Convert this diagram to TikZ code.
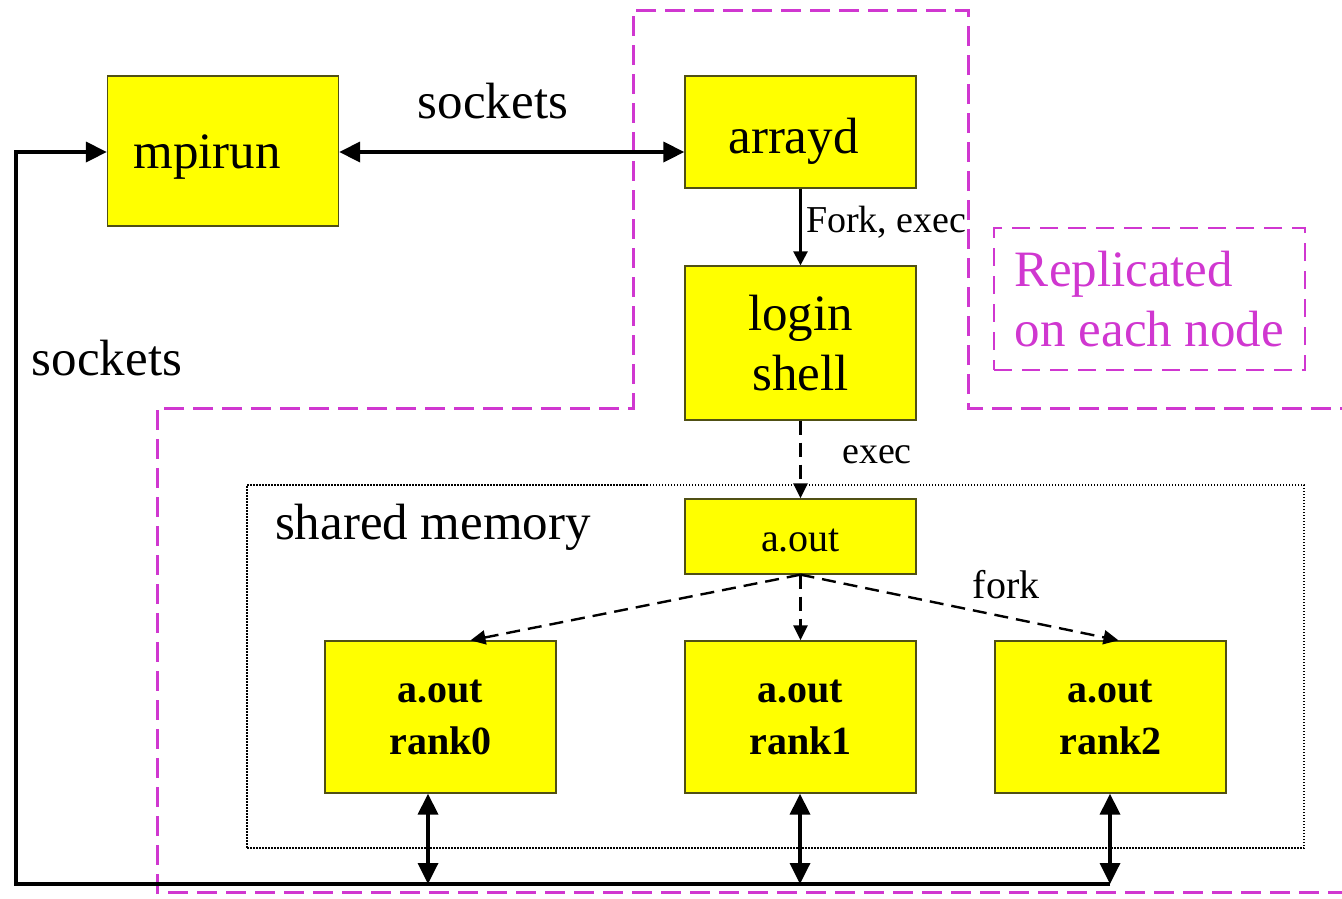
\documentclass[tikz,border=0pt]{standalone}
\usepackage{fontspec}
\setmainfont{Liberation Serif}
\usetikzlibrary{arrows.meta}
\definecolor{mag}{RGB}{208,55,208}
\definecolor{yel}{RGB}{255,255,0}
\definecolor{boxline}{RGB}{80,80,20}
\begin{document}
\begin{tikzpicture}[x=1pt,y=-1pt,
  box/.style={draw=boxline, line width=1.3pt, fill=yel, inner sep=0pt, align=center, minimum width=231pt},
  big/.style={font=\fontsize{51}{60}\selectfont},
  mid/.style={font=\fontsize{38}{46}\selectfont},
  boldt/.style={font=\fontsize{40}{52}\selectfont\bfseries},
  conn/.style={line width=3.5pt},
  dconn/.style={line width=2.4pt, dash pattern=on 14pt off 8pt, -{Triangle[width=14pt,length=15pt]}},
  magline/.style={draw=mag, line width=3pt, dash pattern=on 20pt off 9pt},
  lbl/.style={inner sep=0pt}
]
\useasboundingbox (0,0) rectangle (1342,898);

% shared memory container
\node[draw, line width=1.5pt, dash pattern=on 1.5pt off 1.5pt, minimum width=1057pt, minimum height=363pt, inner sep=0pt] (shm) at (775.5,666.5) {};
\node[big, lbl] (shmlabel) at (433,527) {shared memory};

% replicated region outline
\draw[magline] (1360,408) -- (968,408) -- (968,10) -- (633,10) -- (633,408) -- (157,408) -- (157,892) -- (1360,892);
\node[draw=mag, line width=2.5pt, dash pattern=on 18pt off 10pt, text=mag, big, align=left, minimum width=311pt, minimum height=142pt] (repl) at (1149.5,299) {Replicated\\on each node};

% boxes
\node[box, big, minimum height=150pt] (mpirun) at (223,151) {\hspace*{-32pt}\rule{0pt}{45pt}mpirun};
\node[box, big, minimum height=112pt] (arrayd) at (800.5,132) {\hspace*{-14pt}\rule{0pt}{53pt}arrayd};
\node[box, big, minimum height=154pt] (login) at (800.5,343) {login\\shell};
\node[box, font=\fontsize{40}{46}\selectfont, minimum height=75pt] (aout) at (800.5,536.5) {\rule{0pt}{30pt}a.out};
\node[box, boldt, minimum height=152pt] (r0) at (440.5,717) {a.out\\rank0};
\node[box, boldt, minimum height=152pt] (r1) at (800.5,717) {a.out\\rank1};
\node[box, boldt, minimum height=152pt] (r2) at (1110.5,717) {a.out\\rank2};

% labels
\node[big, lbl] (socktop) at (493,101) {sockets};
\node[big, lbl] (sockleft) at (107,358) {sockets};
\node[mid, lbl, anchor=west] (forkexec) at (806,222) {Fork, exec};
\node[mid, lbl] (execlbl) at (877,455) {exec};
\node[font=\fontsize{40}{46}\selectfont, lbl] (forklbl) at (1006,585) {fork};

% connectors
\draw[conn, {Triangle[width=20pt,length=21pt]}-{Triangle[width=20pt,length=21pt]}] (mpirun.east |- 0,152) -- (arrayd.west |- 0,152);
\draw[line width=2.5pt, -{Triangle[width=14pt,length=14pt]}] (arrayd.south) -- (login.north);
\draw[dconn] (login.south) -- (aout.north);
\draw[dconn] (aout.south) -- ([xshift=30pt]r0.north);
\draw[dconn] (aout.south) -- (r1.north);
\draw[dconn] (aout.south) -- ([xshift=8pt]r2.north);

\coordinate (b0) at (428,884);
\coordinate (b1) at (800,884);
\coordinate (b2) at (1110,884);
\coordinate (bl) at (16,884);
\coordinate (tl) at (16,152);
\draw[conn, {Triangle[width=20pt,length=21pt]}-{Triangle[width=20pt,length=21pt]}] (r0.south -| b0) -- (b0);
\draw[conn, {Triangle[width=20pt,length=21pt]}-{Triangle[width=20pt,length=21pt]}] (r1.south -| b1) -- (b1);
\draw[conn, {Triangle[width=20pt,length=21pt]}-{Triangle[width=20pt,length=21pt]}] (r2.south -| b2) -- (b2);
\draw[conn, -{Triangle[width=20pt,length=21pt]}] (b2) -- (bl) -- (tl) -- (tl -| mpirun.west);
\end{tikzpicture}
\end{document}
